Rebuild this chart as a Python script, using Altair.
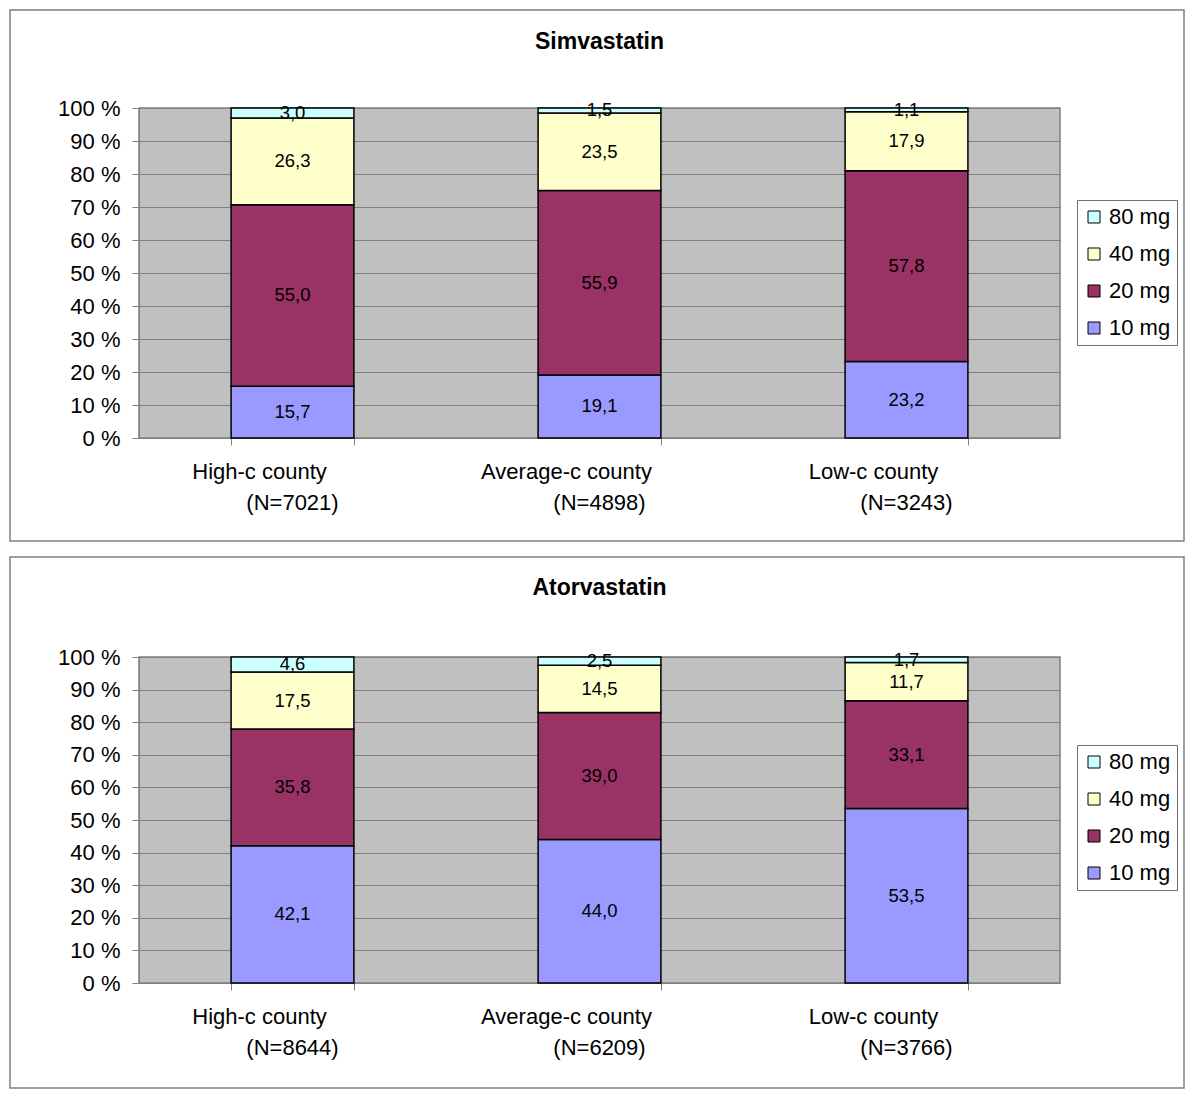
import altair as alt
import pandas as pd

counties = ["High-c county", "Average-c county", "Low-c county"]
doses = ["10 mg", "20 mg", "40 mg", "80 mg"]
legend_order = ["80 mg", "40 mg", "20 mg", "10 mg"]
legend_colors = ["#CCFFFF", "#FFFFCC", "#993366", "#9999FF"]

simva_n = ["(N=7021)", "(N=4898)", "(N=3243)"]
simva_10 = [15.7, 19.1, 23.2]
simva_20 = [55.0, 55.9, 57.8]
simva_40 = [26.3, 23.5, 17.9]
simva_80 = [3.0, 1.5, 1.1]

atorva_n = ["(N=8644)", "(N=6209)", "(N=3766)"]
atorva_10 = [42.1, 44.0, 53.5]
atorva_20 = [35.8, 39.0, 33.1]
atorva_40 = [17.5, 14.5, 11.7]
atorva_80 = [4.6, 2.5, 1.7]

y_ticks = [0, 10, 20, 30, 40, 50, 60, 70, 80, 90, 100]

FONT = "Liberation Sans"
W = 921


def y_axis():
    return alt.Axis(title=None, values=y_ticks, tickCount=11, labelExpr="datum.value + ' %'",
                    labelFontSize=22, labelColor="black", labelFont=FONT,
                    labelOverlap=False, labelBound=False,
                    tickSize=7, tickColor="#808080", labelPadding=12,
                    domainColor="#808080", gridColor="#808080", gridWidth=1)


def panel(title, n_labels, series, height, legend_y, title_y, box_top, box_bottom):
    rows = []
    for di, (dose, vals) in enumerate(zip(doses, series)):
        for ci, c in enumerate(counties):
            rows.append({"county": c, "dose": dose, "order": di + 1, "value": vals[ci],
                         "label": f"{vals[ci]:.1f}".replace(".", ",")})
    df = pd.DataFrame(rows)
    lab = pd.DataFrame({"county": counties, "n": n_labels})

    xs = alt.X("county:N", sort=counties,
               scale=alt.Scale(paddingInner=0.6, paddingOuter=0.3),
               axis=alt.Axis(title=None, labels=False, tickBand="extent", tickSize=7,
                             tickColor="#808080", domainColor="#808080", grid=False))
    yscale = alt.Scale(domain=[0, 100], nice=False)

    base = alt.Chart(df).transform_stack(
        stack="value", groupby=["county"], sort=[alt.SortField("order", "ascending")],
        as_=["y0", "y1"]
    ).transform_calculate(mid="(datum.y0 + datum.y1) / 2")

    bars = base.mark_bar(stroke="black", strokeWidth=1.5).encode(
        x=xs,
        y=alt.Y("y0:Q", scale=yscale, axis=y_axis()),
        y2="y1:Q",
        fill=alt.Fill("dose:N", scale=alt.Scale(domain=legend_order, range=legend_colors),
                      legend=alt.Legend(title=None, orient="none", legendX=938, legendY=legend_y,
                                        labelFontSize=22, labelFont=FONT, labelColor="black",
                                        symbolType="square", symbolSize=144,
                                        symbolStrokeColor="black", symbolStrokeWidth=1,
                                        symbolOpacity=1, labelOffset=4,
                                        rowPadding=15, padding=6,
                                        strokeColor="#707070", fillColor="white")),
    )
    texts = base.mark_text(fontSize=18.5, font=FONT, color="black", baseline="middle").encode(
        x=alt.X("county:N", sort=counties),
        y=alt.Y("mid:Q", scale=yscale, axis=y_axis()),
        text="label:N",
    )
    line1 = alt.Chart(lab).mark_text(fontSize=22, font=FONT, color="black", dx=-33,
                                     baseline="middle").encode(
        x=alt.X("county:N", sort=counties), y=alt.value(height + 34), text="county:N")
    line2 = alt.Chart(lab).mark_text(fontSize=22, font=FONT, color="black",
                                     baseline="middle").encode(
        x=alt.X("county:N", sort=counties), y=alt.value(height + 65), text="n:N")
    one = pd.DataFrame({"t": [title]})
    ttl = alt.Chart(one).mark_text(fontSize=23, font=FONT, fontWeight="bold", color="black",
                                   baseline="middle").encode(
        x=alt.value(W / 2), y=alt.value(title_y), text="t:N")
    box = alt.Chart(one).mark_rect(filled=False, stroke="#808080", strokeWidth=1.5).encode(
        x=alt.value(-129), x2=alt.value(1045), y=alt.value(box_top), y2=alt.value(box_bottom))

    return alt.layer(box, bars, texts, line1, line2, ttl).properties(width=W, height=height)


p1 = panel("Simvastatin", simva_n, [simva_10, simva_20, simva_40, simva_80], 330, 92, -66, -98, 433)
p2 = panel("Atorvastatin", atorva_n, [atorva_10, atorva_20, atorva_40, atorva_80], 326, 88, -69, -100, 431)

chart = alt.vconcat(p1, p2, spacing=12).resolve_scale(fill="independent").resolve_legend(
    fill="independent"
).properties(
    padding={"left": 0, "top": 0, "right": 5, "bottom": 5}, background="white"
).configure_view(
    fill="#C0C0C0", stroke="#808080", strokeWidth=1.5
).configure_text(font=FONT)

chart.save("out.html", embed_options={"renderer": "svg", "actions": False})
